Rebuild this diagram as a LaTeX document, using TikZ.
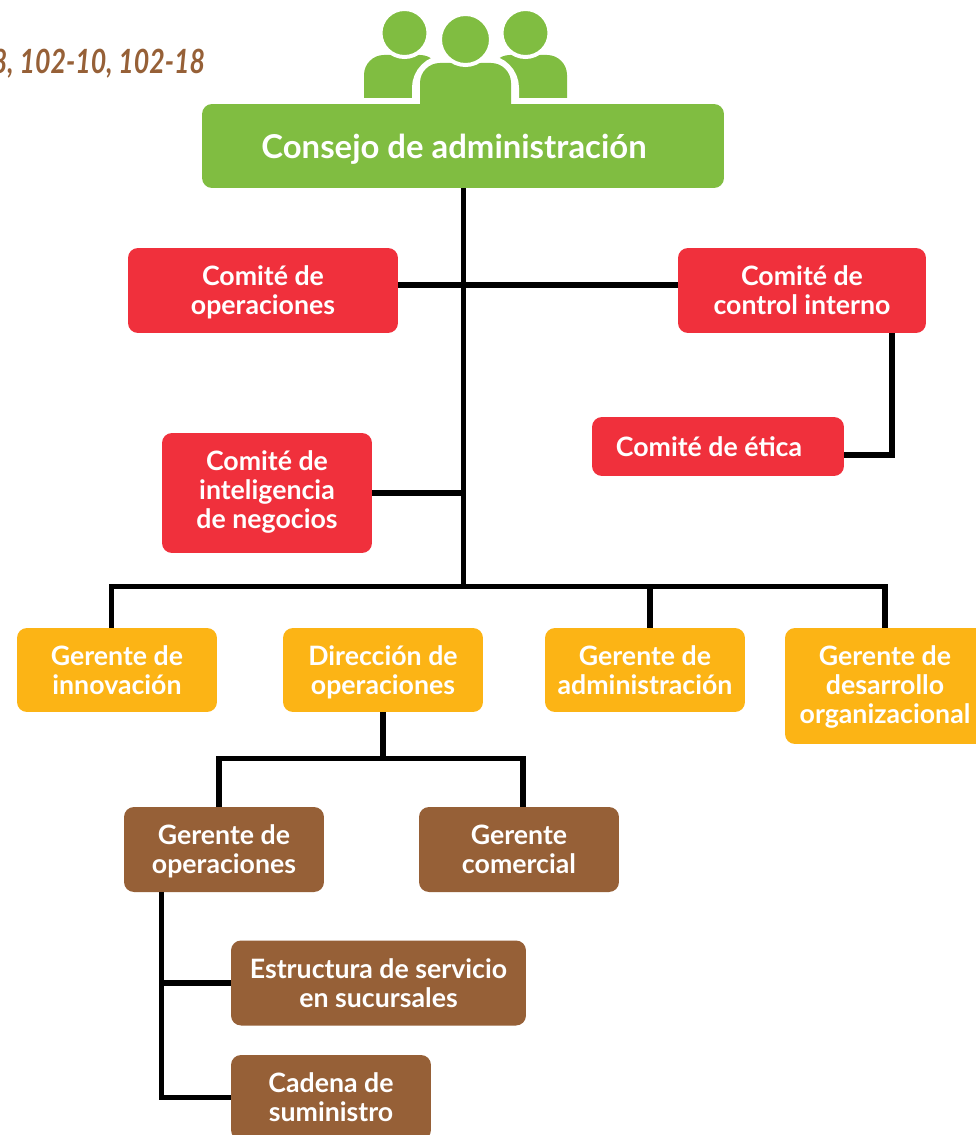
\documentclass[tikz,border=0pt]{standalone}
\usepackage{fontspec}
\setmainfont{Lato}
\usetikzlibrary{calc}
\definecolor{verde}{HTML}{80BD41}
\definecolor{rojo}{HTML}{F0303C}
\definecolor{ambar}{HTML}{FCB415}
\definecolor{cafe}{HTML}{966037}
\tikzset{
    caja/.style={rounded corners=0.2cm,text=white,align=center,inner sep=0pt,text depth=0pt,font=\fontsize{15.2}{16.5}\selectfont\bfseries},
    linea/.style={line width=0.104cm}
}

\begin{document}
\begin{tikzpicture}[x=0.02cm,y=-0.02cm]
                    \clip (0,0) rectangle (976,1135);
                    \fill[white] (0,0) rectangle (976,1135);
                    \draw (205.5,64) node[anchor=east,inner sep=0pt,text=cafe,font=\fontsize{19}{21}\selectfont\bfseries\itshape,name=ref] {\scalebox{0.8}[1]{102-8, 102-10, 102-18}};
                    \fill[verde] (364,98) [rounded corners=0.4cm] -- (364,55) -- (440,55) [sharp corners] -- (440,98) -- cycle;
                    \fill[verde] (567,98) [rounded corners=0.4cm] -- (567,55) -- (490,55) [sharp corners] -- (490,98) -- cycle;
                    \fill[verde,draw=white,line width=0.32cm,rounded corners=0.5cm] (420,140) -- (420,63) -- (511,63) -- (511,140) -- cycle;
                    \fill[verde,rounded corners=0.4cm] (420,140) -- (420,63) -- (511,63) -- (511,140) -- cycle;
                    \draw[fill=verde,draw=white,line width=0.08cm] (404.5,33) ellipse (24 and 24);
                    \draw[fill=verde,draw=white,line width=0.08cm] (525.5,33) ellipse (24 and 24);
                    \draw[fill=verde,draw=white,line width=0.08cm] (465.5,39.5) ellipse (25.5 and 25.5);
                    \draw (463,146) node[caja,fill=verde,minimum width=10.44cm,minimum height=1.68cm,text depth=-0.02cm,font=\fontsize{18.7}{22}\selectfont\bfseries,name=consejo] {Consejo de administración\hspace*{0.36cm}};
                    \draw (263,290.5) node[caja,fill=rojo,minimum width=5.4cm,minimum height=1.7cm,name=operaciones] {Comité de\\operaciones};
                    \draw (802,290.5) node[caja,fill=rojo,minimum width=4.96cm,minimum height=1.7cm,name=control] {Comité de\\control interno};
                    \draw (718,446.5) node[caja,fill=rojo,minimum width=5.04cm,minimum height=1.18cm,name=etica] {Comité de ética\hspace*{0.36cm}};
                    \draw (267,493) node[caja,fill=rojo,minimum width=4.2cm,minimum height=2.4cm,text depth=0.12cm,name=inteligencia] {Comité de\\inteligencia\\de negocios};
                    \draw (117,670) node[caja,fill=ambar,minimum width=4cm,minimum height=1.68cm,name=innovacion] {Gerente de\\innovación};
                    \draw (383,670) node[caja,fill=ambar,minimum width=4cm,minimum height=1.68cm,name=direccion] {Dirección de\\operaciones};
                    \draw (645,670) node[caja,fill=ambar,minimum width=4cm,minimum height=1.68cm,name=administracion] {Gerente de\\administración};
                    \draw (885,686) node[caja,fill=ambar,minimum width=4cm,minimum height=2.32cm,text depth=0.04cm,name=desarrollo] {Gerente de\\desarrollo\\organizacional};
                    \draw (224,849.5) node[caja,fill=cafe,minimum width=4cm,minimum height=1.7cm,name=gerenteop] {Gerente de\\operaciones};
                    \draw (519,849.5) node[caja,fill=cafe,minimum width=4cm,minimum height=1.7cm,name=comercial] {Gerente\\comercial};
                    \draw (378.5,983) node[caja,fill=cafe,minimum width=5.9cm,minimum height=1.7cm,name=estructura] {Estructura de servicio\\en sucursales};
                    \draw (331,1097.5) node[caja,fill=cafe,minimum width=4cm,minimum height=1.7cm,name=cadena] {Cadena de\\suministro};
                    \coordinate (barra) at (463.5,586.5);
                    \coordinate (barraA) at (383,758.5);
                    \coordinate (tronco) at (161.5,892);
                    \coordinate (ctrl) at (892,333);
                    \draw[linea] (consejo.south -| barra) -- (barra);
                    \draw[linea] ($ (operaciones.east) + (0,-5.5) $) -- ($ (control.west) + (0,-5.5) $);
                    \draw[linea] (ctrl) |- ($ (etica.east) + (0,8.5) $);
                    \draw[linea] (inteligencia.east) -- (inteligencia.east -| barra);
                    \draw[linea] (innovacion.north -| 111.5,0) |- (885,586.5) -- (desarrollo.north);
                    \draw[linea] (650,586.5) -- (administracion.north -| 650,0);
                    \draw[linea] (direccion.south) -- (barraA);
                    \draw[linea] (219,807) |- (523,758.5) -- (523,807);
                    \draw[linea] (tronco) |- (cadena.west);
                    \draw[linea] (tronco |- estructura.west) -- (estructura.west);
                \end{tikzpicture}
\end{document}
